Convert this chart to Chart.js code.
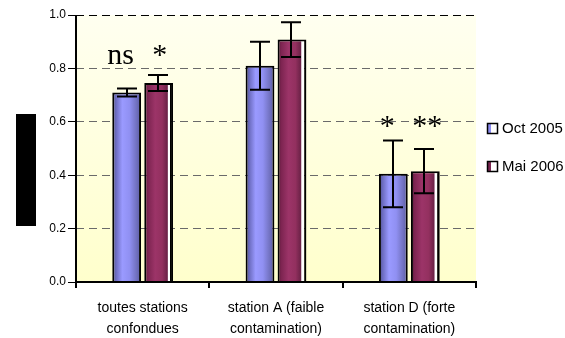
<!DOCTYPE html>
<html>
<head>
<meta charset="utf-8">
<script src="https://cdn.jsdelivr.net/npm/chart.js@4.4.1/dist/chart.umd.min.js"></script>
<style>
  html, body { margin: 0; padding: 0; background: #fff; }
  #wrap { width: 565px; height: 338px; position: relative; }
</style>
</head>
<body>
<div id="wrap"><canvas id="myChart" width="565" height="338"></canvas></div>
<script>
'use strict';
let categories = [['toutes stations', 'confondues'], ['station A (faible', 'contamination)'], ['station D (forte', 'contamination)']];
let seriesNames = ['Oct 2005', 'Mai 2006'];
let octValues = [0.71, 0.81, 0.405];
let octErrors = [0.015, 0.09, 0.125];
let maiValues = [0.745, 0.908, 0.415];
let maiErrors = [0.03, 0.065, 0.083];
let yTicks = [0, 0.2, 0.4, 0.6, 0.8, 1.0];
// significance marks: text, dataset, category, y value of baseline
let marks = [
    { text: 'ns', ds: 0, cat: 0, y: 0.8175, dx: -6 },
    { text: '*', ds: 1, cat: 0, y: 0.8175, dx: 1 },
    { text: '*', ds: 0, cat: 2, y: 0.551, dx: -6 },
    { text: '**', ds: 1, cat: 2, y: 0.551, dx: 2 }
];

let catPct = 0.48;
let barPct = 0.9;

let blueStops = [[0, '#4e4e8e'], [0.12, '#6a6abd'], [0.35, '#9a9aff'], [0.6, '#9090f2'], [0.82, '#7474c4'], [1, '#5a5aa2']];
let redStops = [[0, '#521634'], [0.12, '#7c2450'], [0.38, '#9c3468'], [0.62, '#93305f'], [0.8, '#6c2247'], [0.84, '#ffffff'], [0.9, '#ffffff'], [0.91, '#000000'], [1, '#000000']];

function barFill(stops, solid) {
    return function (ctx) {
        let chart = ctx.chart;
        if (ctx.type !== 'data' || !chart.chartArea) return solid;
        let xs = chart.scales.x;
        let cw = xs.width / categories.length;
        let gw = cw * catPct;
        let bw = gw / 2 * barPct;
        let cx = xs.getPixelForValue(ctx.dataIndex) - gw / 2 + gw / 2 * (ctx.datasetIndex + 0.5);
        let g = chart.ctx.createLinearGradient(cx - bw / 2, 0, cx + bw / 2, 0);
        stops.forEach(s => g.addColorStop(s[0], s[1]));
        return g;
    };
}

let bgPlugin = {
    id: 'bg',
    beforeDraw(chart) {
        let a = chart.chartArea;
        let c = chart.ctx;
        let g = c.createLinearGradient(0, a.top, 0, a.bottom);
        g.addColorStop(0, '#fffff0');
        g.addColorStop(1, '#ffffcc');
        c.save();
        c.fillStyle = g;
        c.fillRect(a.left, a.top, a.right - a.left, a.bottom - a.top);
        // hidden axis title box
        c.fillStyle = '#000';
        c.fillRect(16, 114, 20, 112);
        c.restore();
    }
};

let errPlugin = {
    id: 'errbars',
    afterDatasetsDraw(chart) {
        let c = chart.ctx;
        let ys = chart.scales.y;
        let errs = [octErrors, maiErrors];
        let vals = [octValues, maiValues];
        c.save();
        c.strokeStyle = '#000';
        c.lineWidth = 2;
        for (let d = 0; d < 2; d++) {
            let meta = chart.getDatasetMeta(d);
            meta.data.forEach((bar, i) => {
                let x = Math.round(bar.x - (d === 1 ? 1 : 0));
                let top = ys.getPixelForValue(vals[d][i] + errs[d][i]);
                let bot = ys.getPixelForValue(vals[d][i] - errs[d][i]);
                c.beginPath();
                c.moveTo(x, top); c.lineTo(x, bot);
                c.moveTo(x - 10, top); c.lineTo(x + 10, top);
                c.moveTo(x - 10, bot); c.lineTo(x + 10, bot);
                c.stroke();
            });
        }
        // significance marks
        c.fillStyle = '#000';
        c.font = '30px "Liberation Serif", "Times New Roman", serif';
        c.textAlign = 'center';
        c.textBaseline = 'alphabetic';
        marks.forEach(m => {
            let bar = chart.getDatasetMeta(m.ds).data[m.cat];
            c.fillText(m.text, bar.x + m.dx, ys.getPixelForValue(m.y));
        });
        c.restore();
    }
};

let axisPlugin = {
    id: 'solidAxes',
    afterDraw(chart) {
        let a = chart.chartArea;
        let c = chart.ctx;
        c.save();
        c.strokeStyle = '#000';
        c.lineWidth = 2;
        c.setLineDash([]);
        c.beginPath();
        c.moveTo(a.left, a.top);
        c.lineTo(a.left, a.bottom + 1);
        c.moveTo(a.left - 1, a.bottom);
        c.lineTo(a.right + 1, a.bottom);
        c.stroke();
        c.restore();
    }
};

let legendPlugin = {
    id: 'sideLegend',
    afterDraw(chart) {
        let c = chart.ctx;
        let fills = ['#8c8cf0', '#7a2450'];
        c.save();
        c.font = '15px "Liberation Sans", Arial, sans-serif';
        c.textBaseline = 'middle';
        c.textAlign = 'left';
        seriesNames.forEach((name, i) => {
            let cy = 128 + i * 38;
            c.fillStyle = '#fff';
            c.fillRect(487, cy - 5, 10, 10);
            c.fillStyle = fills[i];
            c.fillRect(487, cy - 5, 4, 10);
            c.strokeStyle = '#000';
            c.lineWidth = 1.5;
            c.strokeRect(487.5, cy - 4.5, 10, 10);
            c.fillStyle = '#000';
            c.fillText(name, 502, cy + 1);
        });
        c.restore();
    }
};

let ctx = document.getElementById('myChart').getContext('2d');
let myChart = new Chart(ctx, {
    type: 'bar',
    data: {
        labels: categories,
        datasets: [{
            label: seriesNames[0],
            data: octValues,
            backgroundColor: barFill(blueStops, '#9999ff'),
            borderColor: '#000',
            borderWidth: 2,
            borderSkipped: 'bottom',
            categoryPercentage: catPct,
            barPercentage: barPct
        },
        {
            label: seriesNames[1],
            data: maiValues,
            backgroundColor: barFill(redStops, '#993366'),
            borderColor: '#000',
            borderWidth: 2,
            borderSkipped: 'bottom',
            categoryPercentage: catPct,
            barPercentage: barPct
        }]
    },
    options: {
        responsive: false,
        animation: false,
        layout: { padding: { top: 15, right: 89, left: 0, bottom: 0 } },
        plugins: {
            legend: { display: false },
            tooltip: { enabled: false }
        },
        scales: {
            x: {
                offset: true,
                grid: {
                    offset: true,
                    drawOnChartArea: false,
                    drawTicks: true,
                    tickLength: 6,
                    color: '#000',
                    lineWidth: 2
                },
                border: { display: true, color: '#000', width: 2 },
                ticks: {
                    color: '#000',
                    padding: 10,
                    maxRotation: 0,
                    autoSkip: false,
                    font: { family: '"Liberation Sans", Arial, sans-serif', size: 14, lineHeight: 1.5 }
                },
                afterFit(scale) { scale.height = 56; }
            },
            y: {
                min: 0,
                max: 1,
                afterBuildTicks(scale) { scale.ticks = yTicks.map(v => ({ value: v })); },
                grid: {
                    color: c => (c.tick && c.tick.value === 1) ? '#000' : '#6a6a6a',
                    lineWidth: 1,
                    tickBorderDash: [],
                    tickColor: '#000',
                    tickLength: 8,
                    drawTicks: true
                },
                border: { display: false, dash: [8, 5] },
                ticks: {
                    color: '#000',
                    padding: 2,
                    font: { family: '"Liberation Sans", Arial, sans-serif', size: 12 },
                    callback: v => v.toFixed(1)
                },
                afterFit(scale) { scale.width = 76; }
            }
        }
    },
    plugins: [bgPlugin, errPlugin, axisPlugin, legendPlugin]
});
</script>
</body>
</html>
